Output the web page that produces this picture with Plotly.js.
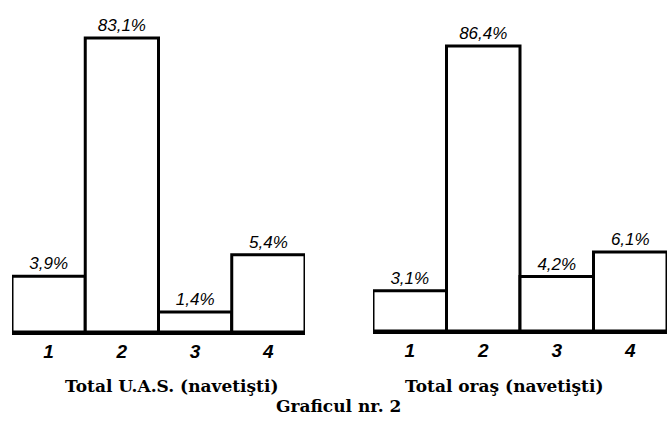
<!DOCTYPE html>
<html>
<head>
<meta charset="utf-8">
<script src="https://cdn.plot.ly/plotly-3.0.1.min.js"></script>
<style>html,body{margin:0;padding:0;background:#fff;}#chart{width:668px;height:422px;}</style>
</head>
<body>
<div id="chart"></div>
<script>
// ---- data ----
const categories = ["1", "2", "3", "4"];
const valuesUAS = [3.9, 83.1, 1.4, 5.4];     // Total U.A.S. (navetişti), %
const valuesOras = [3.1, 86.4, 4.2, 6.1];    // Total oraş (navetişti), %
const groupTitles = ["Total U.A.S. (navetişti)", "Total oraş (navetişti)"];
const chartTitle = "Graficul nr. 2";

// ---- broken value axis: a lower part for the small bars, an upper part for the tall bar ----
const W = 668, H = 422;
const fx = px => px / W;
const fy = px => 1 - px / H;
const breakY = 200;              // pixel row of the axis break
const lowerRangeL = [0, 9.23], upperRangeL = [10, 95.7];
const lowerRangeR = [0, 10.1], upperRangeR = [10, 104.3];

const labelFont = {family: "Liberation Sans, Arial, sans-serif", size: 17, color: "#000", style: "italic", weight: 500};
const lineStyle = {color: "#000", width: 3};
const titleFont = {family: "DejaVu Serif, Liberation Serif, serif", size: 17, color: "#000", weight: 700};

function tmpl(vals, lowMax, upper) {
  return vals.map(v => ((v > lowMax) === upper) ? "%{y:.1f}%" : "");
}
function barTrace(vals, xa, ya, lowMax, upper) {
  return {
    type: "bar", x: categories, y: vals, xaxis: xa, yaxis: ya,
    marker: {color: "#fff", line: lineStyle},
    texttemplate: tmpl(vals, lowMax, upper), textposition: "outside",
    textfont: labelFont, cliponaxis: false, hoverinfo: "skip", showlegend: false
  };
}

const data = [
  barTrace(valuesUAS, "x", "y", lowerRangeL[1], false),
  barTrace(valuesUAS, "x", "y2", lowerRangeL[1], true),
  barTrace(valuesOras, "x2", "y3", lowerRangeR[1], false),
  barTrace(valuesOras, "x2", "y4", lowerRangeR[1], true)
];

const xCommon = {
  type: "category", showline: true, linecolor: "#000", linewidth: 3,
  ticks: "", showgrid: false, zeroline: false, fixedrange: true,
  tickfont: {family: "Liberation Sans, Arial, sans-serif", size: 19, color: "#000", style: "italic", weight: 700}
};
const yCommon = {visible: false, showgrid: false, zeroline: false, fixedrange: true};

function note(text, xpx, ypx) {
  return {text: text, xref: "paper", yref: "paper", x: fx(xpx), y: fy(ypx),
          xanchor: "center", yanchor: "middle", showarrow: false, font: titleFont};
}

const layout = {
  width: W, height: H,
  margin: {l: 0, r: 0, t: 0, b: 0},
  paper_bgcolor: "#fff", plot_bgcolor: "#fff",
  separators: ",.",
  bargap: 0,
  xaxis: Object.assign({}, xCommon, {domain: [fx(12), fx(305)], anchor: "y"}),
  xaxis2: Object.assign({}, xCommon, {domain: [fx(373), fx(667)], anchor: "y3"}),
  yaxis: Object.assign({}, yCommon, {domain: [fy(332), fy(breakY)], range: lowerRangeL, anchor: "x"}),
  yaxis2: Object.assign({}, yCommon, {domain: [fy(breakY), fy(10)], range: upperRangeL, anchor: "x"}),
  yaxis3: Object.assign({}, yCommon, {domain: [fy(331), fy(breakY)], range: lowerRangeR, anchor: "x2"}),
  yaxis4: Object.assign({}, yCommon, {domain: [fy(breakY), fy(10)], range: upperRangeR, anchor: "x2"}),
  annotations: [
    note(groupTitles[0], 172, 386),
    note(groupTitles[1], 504, 386),
    note(chartTitle, 338, 406)
  ]
};

Plotly.newPlot("chart", data, layout, {displayModeBar: false, staticPlot: true});
</script>
</body>
</html>
